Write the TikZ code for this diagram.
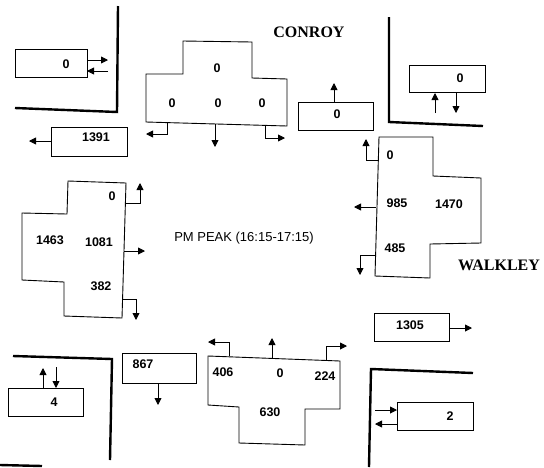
\documentclass[tikz,border=0pt]{standalone}
\usepackage{fontspec}
\setmainfont{Liberation Sans}
\newfontfamily\streetfont{Liberation Serif}
\usetikzlibrary{arrows.meta}
\begin{document}
\begin{tikzpicture}[x=1pt,y=-1pt,
  box/.style={draw,line width=0.9pt},
  road/.style={line width=2.4pt,line join=miter},
  flow/.style={line width=0.9pt,-{Triangle[length=7pt,width=7pt]}},
  num/.style={font=\fontsize{12.5}{12.5}\selectfont\bfseries,inner sep=0pt},
  street/.style={font=\fontsize{16}{16}\selectfont\streetfont\bfseries,inner sep=0pt},
]
\useasboundingbox (0,0) rectangle (544,467);

% road corners
\draw[road] (118,6) -- (117,112) -- (15,108);
\draw[road] (389,17) -- (389,122) -- (483,126);
\draw[road] (13,356) -- (112,359) -- (110,460);
\draw[road] (473,373) -- (371,369) -- (369,467);
\draw[road] (0,465) -- (42,466);

% top-left box
\draw[box] (15,49) rectangle (87,77);
\node[num] (tl) at (66,64) {0};
\draw[flow] (87,60) -- (108,60);
\draw[flow] (108,71) -- (87,71);

% 1391
\draw[box] (51,127) rectangle (127,156);
\node[num] (wout) at (96,137) {1391};
\draw[flow] (51,141) -- (29,141);

% top approach
\draw[box] (183,41) -- (252,42) -- (252,78) -- (287,79) -- (287,126) -- (146,122) -- (146,74) -- (183,74) -- cycle;
\node[num] (sU) at (217,68) {0};
\node[num] (sL) at (172,103) {0};
\node[num] (sT) at (218,103) {0};
\node[num] (sR) at (262,103) {0};
\draw[flow] (167,122) -- (167,134) -- (146,134);
\draw[flow] (215,124) -- (215,147);
\draw[flow] (265,125) -- (265,138) -- (285,138);

\node[street] (conroy) at (309,32) {CONROY};

% north exit
\draw[box] (298,102) rectangle (373,130);
\node[num] (nout) at (337,114) {0};
\draw[flow] (334,102) -- (334,83);

% top-right box
\draw[box] (409,65) rectangle (485,92);
\node[num] (tr) at (460,78) {0};
\draw[flow] (435,113) -- (435,93);
\draw[flow] (456,92) -- (456,113);

% right approach
\draw[box] (379,137) -- (433,137) -- (433,176) -- (481,178) -- (481,243) -- (430,244) -- (430,278) -- (375,276) -- cycle;
\node[num] (eR) at (390,155) {0};
\node[num] (eT) at (397,203) {985};
\node[num] (eU) at (449,204) {1470};
\node[num] (eL) at (395,248) {485};
\draw[flow] (378,160) -- (366,160) -- (366,139);
\draw[flow] (376,207) -- (354,207);
\draw[flow] (375,255) -- (360,255) -- (360,275);

\node[street] (walkley) at (499,265) {WALKLEY};

% 1305
\draw[box] (374,313) rectangle (449,341);
\node[num] (eout) at (410,325) {1305};
\draw[flow] (449,328) -- (472,328);

% bottom-right box
\draw[box] (397,402) rectangle (473,430);
\node[num] (br) at (450,416) {2};
\draw[flow] (375,410) -- (397,410);
\draw[flow] (397,424) -- (375,424);

% bottom approach
\draw[box] (208,356) -- (340,361) -- (340,409) -- (305,409) -- (305,445) -- (239,443) -- (239,407) -- (208,405) -- cycle;
\node[num] (nL) at (223,372) {406};
\node[num] (nT) at (280,373) {0};
\node[num] (nR) at (325,376) {224};
\node[num] (nU) at (270,412) {630};
\draw[flow] (229,356) -- (229,342) -- (208,342);
\draw[flow] (272,358) -- (272,338);
\draw[flow] (326,360) -- (326,346) -- (347,346);

% 867
\draw[box] (122,353) rectangle (196,383);
\node[num] (sout) at (143,364) {867};
\draw[flow] (158,383) -- (158,405);

% bottom-left box
\draw[box] (8,388) rectangle (83,416);
\node[num] (bl) at (54,402) {4};
\draw[flow] (43,388) -- (43,368);
\draw[flow] (56,367) -- (56,388);

% left approach
\draw[box] (68,181) -- (126,183) -- (122,318) -- (64,316) -- (64,282) -- (22,280) -- (22,213) -- (67,214) -- cycle;
\node[num] (wL) at (112,196) {0};
\node[num] (wU) at (50,240) {1463};
\node[num] (wT) at (99,242) {1081};
\node[num] (wR) at (101,286) {382};
\draw[flow] (126,203) -- (140,203) -- (140,183);
\draw[flow] (124,251) -- (145,251);
\draw[flow] (123,299) -- (136,299) -- (136,320);

\node[font=\fontsize{13}{13}\selectfont,inner sep=0pt] (peak) at (244,238) {PM PEAK (16:15-17:15)};
\end{tikzpicture}
\end{document}
